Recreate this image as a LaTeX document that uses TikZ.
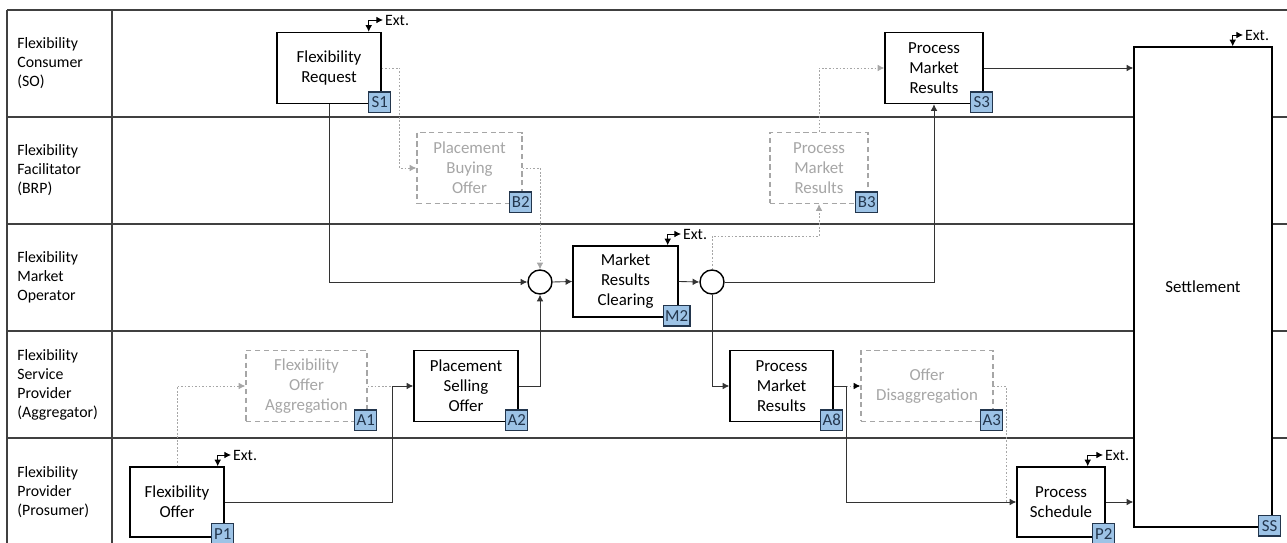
\documentclass[tikz,border=0pt]{standalone}
\usepackage{fontspec}
\setmainfont{Carlito}
\usetikzlibrary{arrows.meta}

\definecolor{badgeblue}{HTML}{9DC3E6}
\definecolor{badgeline}{HTML}{23364D}
\definecolor{lanegray}{HTML}{404040}
\definecolor{ghost}{HTML}{A6A6A6}

\tikzset{
  lane/.style={line width=1pt, lanegray},
  lanelabel/.style={anchor=west, align=left, inner sep=0pt, font=\fontsize{9}{10.8}\selectfont},
  proc/.style={draw, line width=0.8pt, fill=white, align=center, minimum height=1.42cm, inner sep=1pt},
  ghostproc/.style={draw=ghost, dash pattern=on 3pt off 2pt, line width=0.8pt, text=ghost, fill=white, align=center, minimum height=1.42cm, inner sep=1pt},
  badge/.style={draw=badgeline, line width=0.8pt, fill=badgeblue, text=badgeline, minimum width=0.44cm, minimum height=0.41cm, inner sep=1pt},
  junction/.style={circle, draw, line width=0.8pt, fill=white, minimum size=0.48cm, inner sep=0pt},
  flow/.style={black!80, line width=0.5pt, -{Latex[length=3.8pt,width=3.8pt]}},
  ghostflow/.style={ghost, line width=0.5pt, dash pattern=on 1pt off 1pt, -{Latex[length=3.8pt,width=3.8pt]}},
  extlink/.style={line width=0.5pt, {Latex[length=3.8pt,width=3.8pt]}-{Latex[length=3.8pt,width=3.8pt]}},
  extlabel/.style={anchor=west, inner sep=1pt, font=\fontsize{9}{10.8}\selectfont},
}

\begin{document}
\begin{tikzpicture}[x=0.02cm, y=-0.02cm, font=\fontsize{9.6}{11.4}\selectfont]
  \useasboundingbox (0,0) rectangle (1287,543);

  % Swimlane frame
  \draw[lane] (7,10) -- (1287,10);
  \foreach \ly in {117,224,331,438}
    \draw[lane] (7,\ly) -- (1287,\ly);
  \draw[lane] (7,10) -- (7,543);
  \draw[lane] (112,10) -- (112,543);

  % Lane labels
  \node[lanelabel] (consumer) at (17,63.5) {Flexibility\\Consumer\\(SO)};
  \node[lanelabel] (facilitator) at (17,170.5) {Flexibility\\Facilitator\\(BRP)};
  \node[lanelabel] (operator) at (17,277.5) {Flexibility\\Market\\Operator};
  \node[lanelabel] (aggregator) at (17,384.5) {Flexibility\\Service\\Provider\\(Aggregator)};
  \node[lanelabel] (prosumer) at (17,492) {Flexibility\\Provider\\(Prosumer)};

  % Settlement spans all lanes
  \node[proc, minimum width=2.76cm, minimum height=9.6cm] (SET) at (1203,287) {Settlement};

  % Process steps
  \node[proc, minimum width=2.08cm] (S1) at (329,68) {Flexibility\\Request};
  \node[proc, minimum width=1.96cm] (S3) at (934,68) {Process\\Market\\Results};
  \node[ghostproc, minimum width=2.1cm] (B2) at (469.5,168) {Placement\\Buying\\Offer};
  \node[ghostproc, minimum width=1.96cm] (B3) at (819,168) {Process\\Market\\Results};
  \node[proc, minimum width=2.1cm] (M2) at (625.5,281.5) {Market\\Results\\Clearing};
  \node[ghostproc, minimum width=2.42cm] (A1) at (306.5,386) {Flexibility\\Offer\\Aggregation};
  \node[proc, minimum width=2.08cm] (A2) at (466,386) {Placement\\Selling\\Offer};
  \node[proc, minimum width=2.06cm] (A8) at (781.5,386) {Process\\Market\\Results};
  \node[ghostproc, minimum width=2.64cm] (A3) at (927,386) {Offer\\Disaggregation};
  \node[proc, minimum width=1.88cm, minimum height=1.4cm] (P1) at (177,502) {Flexibility\\Offer};
  \node[proc, minimum width=1.76cm, minimum height=1.4cm] (P2) at (1061,502) {Process\\Schedule};

  % Junctions
  \node[junction] (c1) at (540,282) {};
  \node[junction] (c2) at (712,282) {};
  \coordinate (j1) at (392,386);
  \coordinate (j2) at (846,386);
  \coordinate (j3) at (1006,502);

  % Optional (grey) flows
  \draw[ghostflow] (S1.east) -- ++(18,0) |- (B2.west);
  \draw[ghostflow] (B2.east) -| (c1.north);
  \draw[ghostflow] (c2.north) -- ++(0,-33) -| (B3.south);
  \draw[ghostflow] (B3.north) |- (S3.west);
  \draw[ghostflow] (P1.north) |- (A1.west);
  \draw[ghostflow, -] (A1.east) -- (j1);
  \draw[ghostflow, -{Latex[length=3.8pt,width=3.8pt,color=black]}] (j2) -- (A3.west);
  \draw[ghostflow, -] (A3.east) -| (j3);

  % Main flows
  \draw[flow] (S1.south) |- (c1.west);
  \draw[flow] (A2.east) -| (c1.south);
  \draw[flow] (c1.east) -- (M2.west);
  \draw[flow] (M2.east) -- (c2.west);
  \draw[flow] (c2.east) -| (S3.south);
  \draw[flow] (c2.south) |- (A8.west);
  \draw[flow] (S3.east) -- (S3.east -| SET.west);
  \draw[flow] (P1.east) -| (j1) -- (A2.west);
  \draw[flow] (A8.east) -- (j2) |- (P2.west);
  \draw[flow] (P2.east) -- (P2.east -| SET.west);

  % External links
  \node[extlabel] (S1x) at (383,20) {Ext.};
  \draw[extlink] ([xshift=-0.26cm]S1.north east) |- (S1x.west);
  \node[extlabel] (M2x) at (681,234) {Ext.};
  \draw[extlink] ([xshift=-0.22cm]M2.north east) |- (M2x.west);
  \node[extlabel] (P1x) at (231,455) {Ext.};
  \draw[extlink] ([xshift=-0.14cm]P1.north east) |- (P1x.west);
  \node[extlabel] (P2x) at (1103,455) {Ext.};
  \draw[extlink] ([xshift=-0.36cm]P2.north east) |- (P2x.west);
  \node[extlabel] (SETx) at (1243,35) {Ext.};
  \draw[extlink] ([xshift=-0.8cm]SET.north east) |- (SETx.west);

  % Step tags
  \node[badge] (S1tag) at ([shift={(-2,-2)}]S1.south east) {S1};
  \node[badge] (S3tag) at ([shift={(-2,-2)}]S3.south east) {S3};
  \node[badge] (B2tag) at ([shift={(-2,-2)}]B2.south east) {B2};
  \node[badge] (B3tag) at ([shift={(-2,-2)}]B3.south east) {B3};
  \node[badge] (M2tag) at ([shift={(-2,-2)}]M2.south east) {M2};
  \node[badge] (A1tag) at ([shift={(-2,-2)}]A1.south east) {A1};
  \node[badge] (A2tag) at ([shift={(-2,-2)}]A2.south east) {A2};
  \node[badge] (A8tag) at ([shift={(-2,-2)}]A8.south east) {A8};
  \node[badge] (A3tag) at ([shift={(-2,-2)}]A3.south east) {A3};
  \node[badge] (P1tag) at ([shift={(-2,-4)}]P1.south east) {P1};
  \node[badge] (P2tag) at ([shift={(-2,-4)}]P2.south east) {P2};
  \node[badge] (SETtag) at ([shift={(-3,-2)}]SET.south east) {SS};
\end{tikzpicture}
\end{document}
